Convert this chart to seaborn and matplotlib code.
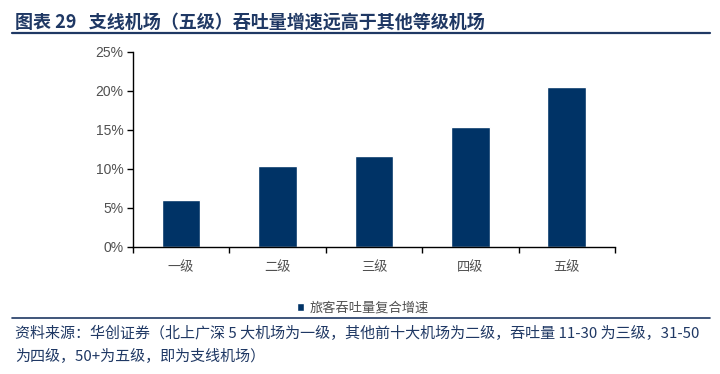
import matplotlib
matplotlib.use("Agg")
import matplotlib.pyplot as plt
import matplotlib.ticker as mticker
import seaborn as sns
import pandas as pd

categories = ["一级", "二级", "三级", "四级", "五级"]
growth = [0.060, 0.104, 0.117, 0.154, 0.205]
series_name = "旅客吞吐量复合增速"
y_ticks = [0, 0.05, 0.10, 0.15, 0.20, 0.25]

title = "图表 29   支线机场（五级）吞吐量增速远高于其他等级机场"
source_lines = [
    "资料来源：华创证券（北上广深 5 大机场为一级，其他前十大机场为二级，吞吐量 11-30 为三级，31-50",
    "为四级，50+为五级，即为支线机场）",
]

sns.set_theme(style="white")
plt.rcParams["font.family"] = ["Liberation Sans", "Noto Sans CJK SC", "DejaVu Sans"]

navy = "#003366"
text_gray = "#505050"
title_blue = "#1f3864"
cjk = ["Noto Sans CJK SC", "DejaVu Sans"]

df = pd.DataFrame({"cat": categories, "val": growth, "series": series_name})

fig = plt.figure(figsize=(7.2, 3.74), dpi=100)
ax = fig.add_axes([0.1847, 0.3396, 0.854 - 0.1847, 0.861 - 0.3396])

sns.barplot(data=df, x="cat", y="val", hue="series", palette=[navy],
            width=0.4, ax=ax, saturation=1)

ax.set_xlim(-0.5, len(categories) - 0.5)
ax.set_ylim(0, 0.25)
ax.set_yticks(y_ticks)
ax.yaxis.set_major_formatter(mticker.FuncFormatter(lambda v, p: f"{v*100:.0f}%"))

# category boundary ticks as major, labels at centres as minor
ax.set_xticks([i - 0.5 for i in range(len(categories) + 1)])
ax.set_xticklabels([""] * (len(categories) + 1))
ax.set_xticks(range(len(categories)), minor=True)
ax.set_xticklabels(categories, minor=True, family=cjk)
ax.tick_params(axis="x", which="major", direction="out", length=4, width=1, color="black", bottom=True)
ax.tick_params(axis="x", which="minor", length=0, labelsize=9.5, labelcolor=text_gray, pad=10)
ax.tick_params(axis="y", direction="out", length=4, width=1, color="black", left=True,
               labelsize=10, labelcolor=text_gray, pad=3)

for s in ["top", "right"]:
    ax.spines[s].set_visible(False)
for s in ["left", "bottom"]:
    ax.spines[s].set_color("black")
    ax.spines[s].set_linewidth(1)
ax.set_xlabel("")
ax.set_ylabel("")

leg = ax.legend(loc="upper center", bbox_to_anchor=(363 / 720, 1 - 296 / 374),
                bbox_transform=fig.transFigure, frameon=False,
                prop={"family": cjk, "size": 9.5},
                handlelength=0.55, handleheight=0.55, handletextpad=0.4, borderaxespad=0)
for t in leg.get_texts():
    t.set_color(text_gray)

# Title and rules
fig.text(15 / 720, 1 - 22 / 374, title, fontsize=13, fontweight="bold", color=title_blue,
         va="center", ha="left", family=cjk)
fig.add_artist(plt.Line2D([12 / 720, 710 / 720], [1 - 33 / 374] * 2, color=title_blue,
                          linewidth=1.6, transform=fig.transFigure))
fig.add_artist(plt.Line2D([12 / 720, 710 / 720], [1 - 318 / 374] * 2, color=title_blue,
                          linewidth=1.2, transform=fig.transFigure))

fig.text(15 / 720, 1 - 333 / 374, source_lines[0], fontsize=10.8, style="italic",
         color=title_blue, va="center", ha="left", family=cjk)
fig.text(15 / 720, 1 - 356 / 374, source_lines[1], fontsize=10.8, style="italic",
         color=title_blue, va="center", ha="left", family=cjk)

fig.savefig("out.png", dpi=100)
